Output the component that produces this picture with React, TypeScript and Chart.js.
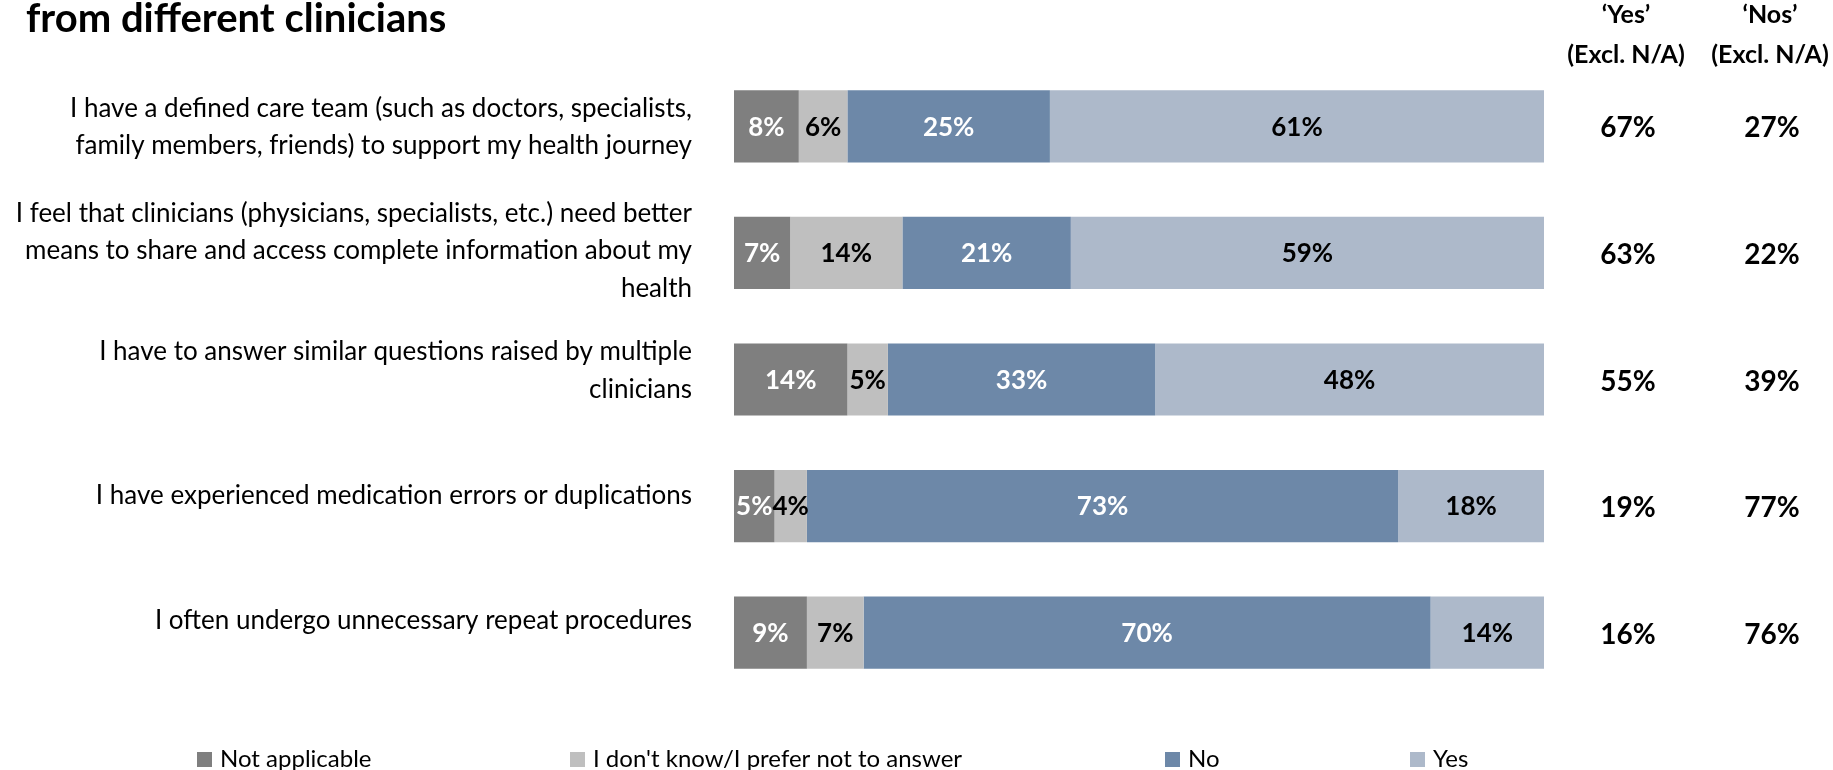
import React, { useEffect, useRef } from "react";
import { Chart, registerables } from "chart.js";

Chart.register(...registerables);

const categories: string[][] = [
  ["I have a defined care team (such as doctors, specialists,", "family members, friends) to support my health journey"],
  ["I feel that clinicians (physicians, specialists, etc.) need better", "means to share and access complete information about my", "health"],
  ["I have to answer similar questions raised by multiple", "clinicians"],
  ["I have experienced medication errors or duplications"],
  ["I often undergo unnecessary repeat procedures"],
];
const seriesNames = ["Not applicable", "I don't know/I prefer not to answer", "No", "Yes"];
const notApplicable = [8, 7, 14, 5, 9];
const dontKnow = [6, 14, 5, 4, 7];
const noValues = [25, 21, 33, 73, 70];
const yesValues = [61, 59, 48, 18, 14];
const yesExclNA = [67, 63, 55, 19, 16];
const nosExclNA = [27, 22, 39, 77, 76];
const titleText = "from different clinicians";
const headerYes = ["\u2018Yes\u2019", "(Excl. N/A)"];
const headerNos = ["\u2018Nos\u2019", "(Excl. N/A)"];

const colors = ["#7F7F7F", "#BFBFBF", "#6D88A8", "#ADB9CA"];
const labelColors = ["#FFFFFF", "#000000", "#FFFFFF", "#000000"];
const FONT = "Lato, 'Open Sans', sans-serif";
const labelNudge = [1, -2, -9, -10, -12];

export default function App() {
  const ref = useRef<HTMLCanvasElement | null>(null);

  useEffect(() => {
    const canvas = ref.current;
    if (!canvas) return;
    const raw = [notApplicable, dontKnow, noValues, yesValues];
    const totals = categories.map((_, j) => raw.reduce((s, arr) => s + arr[j], 0));

    const overlay = {
      id: "overlay",
      afterDatasetsDraw(chart: any) {
        const ctx = chart.ctx;
        const yScale = chart.scales.y;
        ctx.save();
        // category labels
        ctx.fillStyle = "#000";
        ctx.textAlign = "right";
        ctx.textBaseline = "middle";
        ctx.font = `26px ${FONT}`;
        const lh = 37.4;
        categories.forEach((lines, j) => {
          const cy = yScale.getPixelForValue(j) + labelNudge[j];
          const start = cy - ((lines.length - 1) * lh) / 2;
          lines.forEach((ln, k) => ctx.fillText(ln, 692, start + k * lh));
        });
        // data labels
        ctx.textAlign = "center";
        ctx.font = `bold 26px ${FONT}`;
        chart.data.datasets.forEach((ds: any, i: number) => {
          const meta = chart.getDatasetMeta(i);
          meta.data.forEach((el: any, j: number) => {
            const cx = (el.x + el.base) / 2;
            ctx.fillStyle = labelColors[i];
            ctx.fillText(`${raw[i][j]}%`, cx, el.y + 1);
          });
        });
        // right columns
        ctx.fillStyle = "#000";
        ctx.font = `bold 28px ${FONT}`;
        categories.forEach((_, j) => {
          const y = yScale.getPixelForValue(j) + 2;
          ctx.fillText(`${yesExclNA[j]}%`, 1628, y);
          ctx.fillText(`${nosExclNA[j]}%`, 1772, y);
        });
        ctx.font = `bold 25px ${FONT}`;
        ctx.fillText(headerYes[0], 1626, 15);
        ctx.fillText(headerYes[1], 1626, 55);
        ctx.fillText(headerNos[0], 1770, 15);
        ctx.fillText(headerNos[1], 1770, 55);
        // title
        ctx.textAlign = "left";
        ctx.font = `bold 40px ${FONT}`;
        ctx.fillText(titleText, 26, 19);
        // legend
        const lx = [197, 570, 1165, 1410];
        ctx.font = `24px ${FONT}`;
        chart.data.datasets.forEach((ds: any, i: number) => {
          ctx.fillStyle = ds.backgroundColor;
          ctx.fillRect(lx[i], 752, 15, 15);
          ctx.fillStyle = "#000";
          ctx.fillText(ds.label, lx[i] + 23, 759);
        });
        ctx.restore();
      },
    };

    const chart = new Chart(canvas, {
      type: "bar",
      data: {
        labels: categories,
        datasets: seriesNames.map((name, i) => ({
          label: name,
          data: raw[i].map((v, j) => (v / totals[j]) * 100),
          backgroundColor: colors[i],
          borderWidth: 0,
          barPercentage: 0.57,
          categoryPercentage: 1,
        })),
      },
      options: {
        indexAxis: "y",
        responsive: false,
        animation: false,
        layout: { padding: { top: 63, bottom: 74, right: 289, left: 0 } },
        plugins: {
          legend: { display: false },
          title: { display: false },
          tooltip: { enabled: false },
        },
        scales: {
          x: { stacked: true, display: false, min: 0, max: 100 },
          y: {
            stacked: true,
            grid: { display: false },
            border: { display: false },
            ticks: { display: false },
            afterFit(scale: any) {
              scale.width = 734;
            },
          },
        },
      },
      plugins: [overlay],
    });
    return () => chart.destroy();
  }, []);

  return (
    <div style={{ position: "absolute", left: 0, top: 0, width: 1833, height: 770, background: "#fff" }}>
      <canvas ref={ref} width={1833} height={770} />
    </div>
  );
}
